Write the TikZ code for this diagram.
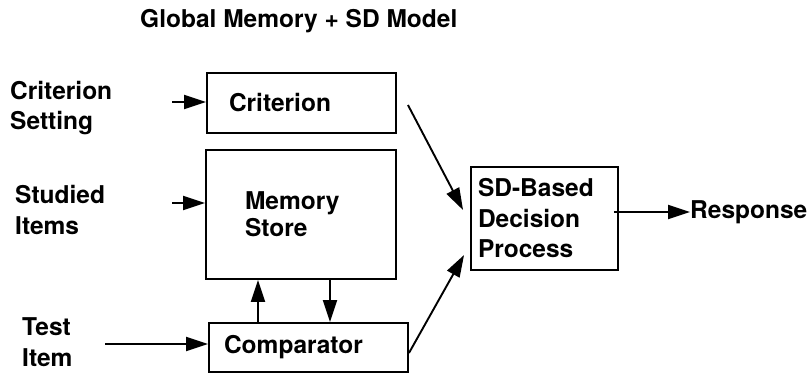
\documentclass[tikz,border=0pt]{standalone}
\usepackage{fontspec}
\setmainfont{TeX Gyre Heros}
\usetikzlibrary{arrows.meta}
\usetikzlibrary{calc}
\usetikzlibrary{positioning}
\tikzstyle{box} = [draw,line width=1.9pt,inner ysep=0pt,align=left]
\tikzstyle{lbl} = [inner sep=0pt,align=left]
\tikzstyle{arrow} = [line width=1.9pt,-{Triangle[length=22pt,width=14pt]}]

\begin{document}
\begin{tikzpicture}[x=1pt,y=-1pt,every node/.style={font=\fontsize{24.5}{30.5}\selectfont\bfseries}]

    \useasboundingbox (0,0) rectangle (808,373);

  \node[anchor=base west,inner sep=0pt] (title) at (140,27) {Global Memory + SD Model};

  % boxes
  \node[box,inner xsep=22pt,text width=145pt,minimum height=60pt] (crit) at (301.5,103) {Criterion};
  \node[box,inner xsep=39pt,text width=112pt,minimum height=129pt,font=\fontsize{24.5}{27}\selectfont\bfseries] (mem) at (301,214.5) {Memory\\Store};
  \node[box,inner xsep=15pt,text width=169pt,minimum height=49pt] (comp) at (308.5,347.5) {Comparator};
  \node[box,inner xsep=7pt,text width=133pt,minimum height=103pt] (dec) at (544.5,218.5) {SD-Based\\Decision\\Process};

  % inputs and output
  \node[lbl,anchor=west] (cset) at (10,108) {Criterion\\Setting};
  \node[lbl,anchor=west] (stud) at (15,210) {Studied\\Items};
  \node[lbl,anchor=west] (test) at (22,342) {Test\\Item};
  \node[lbl,anchor=west] (resp) at (690,212) {Response};

    \coordinate (cs) at (172,102);
    \coordinate (si) at (172,203);
    \coordinate (ti) at (105,344);
    \coordinate (up) at (258,0);
    \coordinate (dn) at (330,0);

  \draw[arrow] (cs) -- (crit.west |- cs);
  \draw[arrow] (si) -- (mem.west |- si);
  \draw[arrow] (ti) -- (comp.west |- ti);
  \draw[arrow] (comp.north -| up) -- (mem.south -| up);
  \draw[arrow] (mem.south -| dn) -- (comp.north -| dn);
  \draw[arrow] ($(crit.east)+(11,2)$) -- ($(dec.west)+(-7,-8.5)$);
  \draw[arrow] ($(comp.east)+(0,5.5)$) -- ($(dec.west)+(-6,36.5)$);
  \draw[arrow] ($(dec.east |- resp.west)+(-5,0)$) -- (resp.west);

\end{tikzpicture}
\end{document}
